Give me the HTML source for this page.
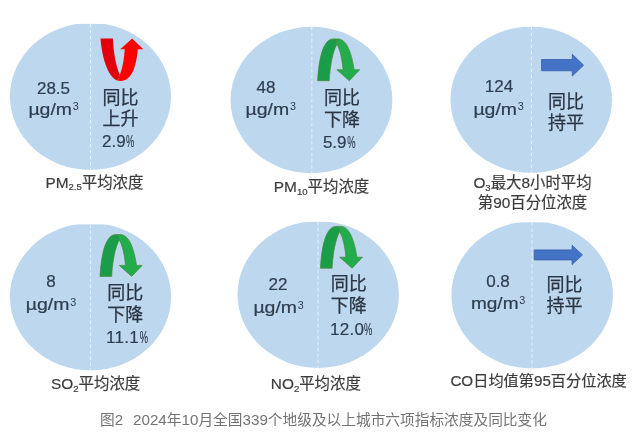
<!DOCTYPE html>
<html lang="zh-CN">
<head>
<meta charset="utf-8">
<title>图2 2024年10月全国339个地级及以上城市六项指标浓度及同比变化</title>
<style>
html,body{margin:0;padding:0;background:#fff;}
body{width:640px;height:435px;overflow:hidden;}
svg{display:block;}
text{font-family:"Liberation Sans","Noto Sans CJK SC",sans-serif;}
.v{font-size:17px;fill:#2f3e4e;text-anchor:middle;stroke:#2f3e4e;stroke-width:0.2px;}
.u{font-size:17px;fill:#2f3e4e;stroke:#2f3e4e;stroke-width:0.2px;}
.u3{font-size:10.8px;fill:#2f3e4e;}
.c{font-size:18px;fill:#2b3542;stroke:#2b3542;stroke-width:0.25px;}
.p{font-size:17px;fill:#2f3e4e;stroke:#2f3e4e;stroke-width:0.2px;}
.l{font-size:15.4px;fill:#3c3c3c;text-anchor:middle;stroke:#3c3c3c;stroke-width:0.2px;}
.cap{font-size:14.7px;fill:#737373;}
.cap .d{font-size:15.2px;}
.sub{font-size:9.6px;}
</style>
</head>
<body>
<svg width="640" height="435" viewBox="0 0 640 435">
<defs>
  <g id="up">
    <!-- red U-turn arrow pointing up; local origin = top-left of arrow box -->
    <path d="M0.5,0 L12.9,0 C13.5,14 16,28 19.8,36.2 C19.4,38.5 18.4,40.6 17,41.9 C8.5,38.5 2,20 0.5,0 Z" fill="#e3000d"/>
    <path d="M17,41.9 C18.3,42.2 19.6,42.3 21,42.3 C30.5,42.3 36,31 37.8,10.7 L43.3,10.7 L32.2,0 L20.2,10.7 L24.7,10.7 C24.2,20 22.5,30 19.8,36.2 C19.4,38.5 18.4,40.6 17,41.9 Z" fill="#ff0000"/>
  </g>
  <g id="down">
    <!-- green U-turn arrow pointing down -->
    <path d="M0,41.8 L11.7,41.8 C12.3,28 15,13 19.3,5.3 C19.2,3 18.6,1 17.8,0 L15.5,0 C5.5,0.2 1.2,20 0,41.8 Z" fill="#1a9d49" stroke="#4a8736" stroke-width="0.7"/>
    <path d="M17.8,0 L20.5,0 C27.5,0 33.5,10 36.5,30.8 L42.1,30.8 L31.7,41.8 L19.3,30.8 L25.5,30.8 C24.5,20 22.5,11 19.3,5.3 C19.2,3 18.6,1 17.8,0 Z" fill="#22ac4c" stroke="#4a8736" stroke-width="0.7"/>
  </g>
  <g id="ug">
    <text class="u" x="-25.6" y="0" textLength="43.6" lengthAdjust="spacingAndGlyphs">µg/m</text>
    <text class="u3" x="18.8" y="-4.4">3</text>
  </g>
  <g id="mg">
    <text class="u" x="-27.4" y="0" textLength="47.6" lengthAdjust="spacingAndGlyphs">mg/m</text>
    <text class="u3" x="20.9" y="-4.4">3</text>
  </g>
  <g id="pct">
    <text class="p" transform="scale(0.55,1)" x="0" y="0">%</text>
  </g>
</defs>
<rect width="640" height="435" fill="#ffffff"/>
<g style="filter:blur(0.45px)">

<!-- circle 1 : PM2.5 -->
<ellipse cx="90.45" cy="96.4" rx="80.5" ry="73.6" fill="#bdd7ee"/>
<rect x="40" y="15" width="100" height="8.9" fill="#ffffff"/>
<line x1="90.5" y1="24" x2="90.5" y2="170" stroke="#e6f0fa" stroke-width="1" stroke-dasharray="3.4 2.6"/>
<text class="v" x="53.5" y="94.3">28.5</text>
<use href="#ug" x="54" y="114.5"/>
<use href="#up" x="100" y="38.6"/>
<text class="c" x="102.5" y="103.6">同比</text>
<text class="c" x="102.5" y="124.7">上升</text>
<text class="p" x="102" y="147">2.9</text>
<use href="#pct" x="126" y="147"/>
<text class="l" x="94.4" y="187.6">PM<tspan class="sub" dy="2.8">2.5</tspan><tspan dy="-2.8">平均浓度</tspan></text>

<!-- circle 2 : PM10 -->
<ellipse cx="311.5" cy="100" rx="80.9" ry="73.2" fill="#bdd7ee"/>
<line x1="311.8" y1="27" x2="311.8" y2="173.2" stroke="#e6f0fa" stroke-width="1" stroke-dasharray="3.4 2.6"/>
<text class="v" x="266" y="93.2">48</text>
<use href="#ug" x="271.2" y="114.5"/>
<use href="#down" x="317.6" y="38.9"/>
<text class="c" x="323.9" y="103.8">同比</text>
<text class="c" x="323.9" y="125.5">下降</text>
<text class="p" x="322.9" y="147.7">5.9</text>
<use href="#pct" x="347.3" y="147.7"/>
<text class="l" x="321.5" y="192.3">PM<tspan class="sub" dy="2.8">10</tspan><tspan dy="-2.8">平均浓度</tspan></text>

<!-- circle 3 : O3 -->
<ellipse cx="531.25" cy="99.75" rx="80.75" ry="73.05" fill="#bdd7ee"/>
<line x1="531.4" y1="26.8" x2="531.4" y2="172.8" stroke="#e6f0fa" stroke-width="1" stroke-dasharray="3.4 2.6"/>
<text class="v" x="499" y="92">124</text>
<use href="#ug" x="499" y="114.6"/>
<path d="M541.5,59.5 L572.3,59.5 L572.3,54.3 L583.6,65.15 L572.3,76 L572.3,70.8 L541.5,70.8 Z" fill="#4472c4" stroke="#3760b2" stroke-width="0.8"/>
<text class="c" x="548" y="108">同比</text>
<text class="c" x="548" y="129">持平</text>
<text class="l" x="532.5" y="188.2">O<tspan class="sub" dy="2.8">3</tspan><tspan dy="-2.8">最大8小时平均</tspan></text>
<text class="l" x="532.5" y="207.9">第90百分位浓度</text>

<!-- circle 4 : SO2 -->
<ellipse cx="90.5" cy="296.8" rx="80.6" ry="73.6" fill="#bdd7ee"/>
<rect x="40" y="215" width="100" height="9.4" fill="#ffffff"/>
<line x1="90.4" y1="224.6" x2="90.4" y2="370.3" stroke="#e6f0fa" stroke-width="1" stroke-dasharray="3.4 2.6"/>
<text class="v" x="51" y="287.4">8</text>
<use href="#ug" x="51.4" y="309.9"/>
<use href="#down" x="100" y="234.6"/>
<text class="c" x="107.2" y="298.5">同比</text>
<text class="c" x="107.2" y="320.7">下降</text>
<text class="p" x="106" y="342.7" letter-spacing="0.3">11.1</text>
<use href="#pct" x="139.8" y="342.7"/>
<text class="l" x="95.6" y="389.4">SO<tspan class="sub" dy="2.8">2</tspan><tspan dy="-2.8">平均浓度</tspan></text>

<!-- circle 5 : NO2 -->
<ellipse cx="318.2" cy="294.5" rx="80.7" ry="73.5" fill="#bdd7ee"/>
<rect x="268" y="213" width="100" height="8.8" fill="#ffffff"/>
<line x1="318" y1="221.9" x2="318" y2="367.9" stroke="#e6f0fa" stroke-width="1" stroke-dasharray="3.4 2.6"/>
<text class="v" x="278" y="290.3">22</text>
<use href="#ug" x="279" y="313"/>
<use href="#down" x="320.4" y="226.4"/>
<text class="c" x="330.8" y="290.4">同比</text>
<text class="c" x="330.8" y="312.1">下降</text>
<text class="p" x="330" y="334.8" letter-spacing="0.3">12.0</text>
<use href="#pct" x="364" y="334.8"/>
<text class="l" x="315.8" y="389.3">NO<tspan class="sub" dy="2.8">2</tspan><tspan dy="-2.8">平均浓度</tspan></text>

<!-- circle 6 : CO -->
<ellipse cx="532.15" cy="294.9" rx="80.75" ry="73.6" fill="#bdd7ee"/>
<rect x="482" y="213" width="100" height="9.3" fill="#ffffff"/>
<line x1="532.1" y1="222.4" x2="532.1" y2="368.5" stroke="#e6f0fa" stroke-width="1" stroke-dasharray="3.4 2.6"/>
<text class="v" x="498" y="287">0.8</text>
<use href="#mg" x="498.3" y="308.6"/>
<path d="M534.2,249.9 L572.1,249.9 L572.1,245.3 L582.4,254.95 L572.1,264.6 L572.1,259.9 L534.2,259.9 Z" fill="#4472c4" stroke="#3760b2" stroke-width="0.8"/>
<text class="c" x="546.5" y="290.8">同比</text>
<text class="c" x="546.5" y="311.5">持平</text>
<text class="l" x="538.6" y="385.8" style="font-size:15.2px">CO日均值第95百分位浓度</text>

</g>

<!-- caption -->
<text class="cap" x="100" y="425">图<tspan class="d">2</tspan></text>
<text class="cap" x="133" y="425"><tspan class="d">2024</tspan>年<tspan class="d">10</tspan>月全国<tspan class="d">339</tspan>个地级及以上城市六项指标浓度及同比变化</text>
</svg>
</body>
</html>
